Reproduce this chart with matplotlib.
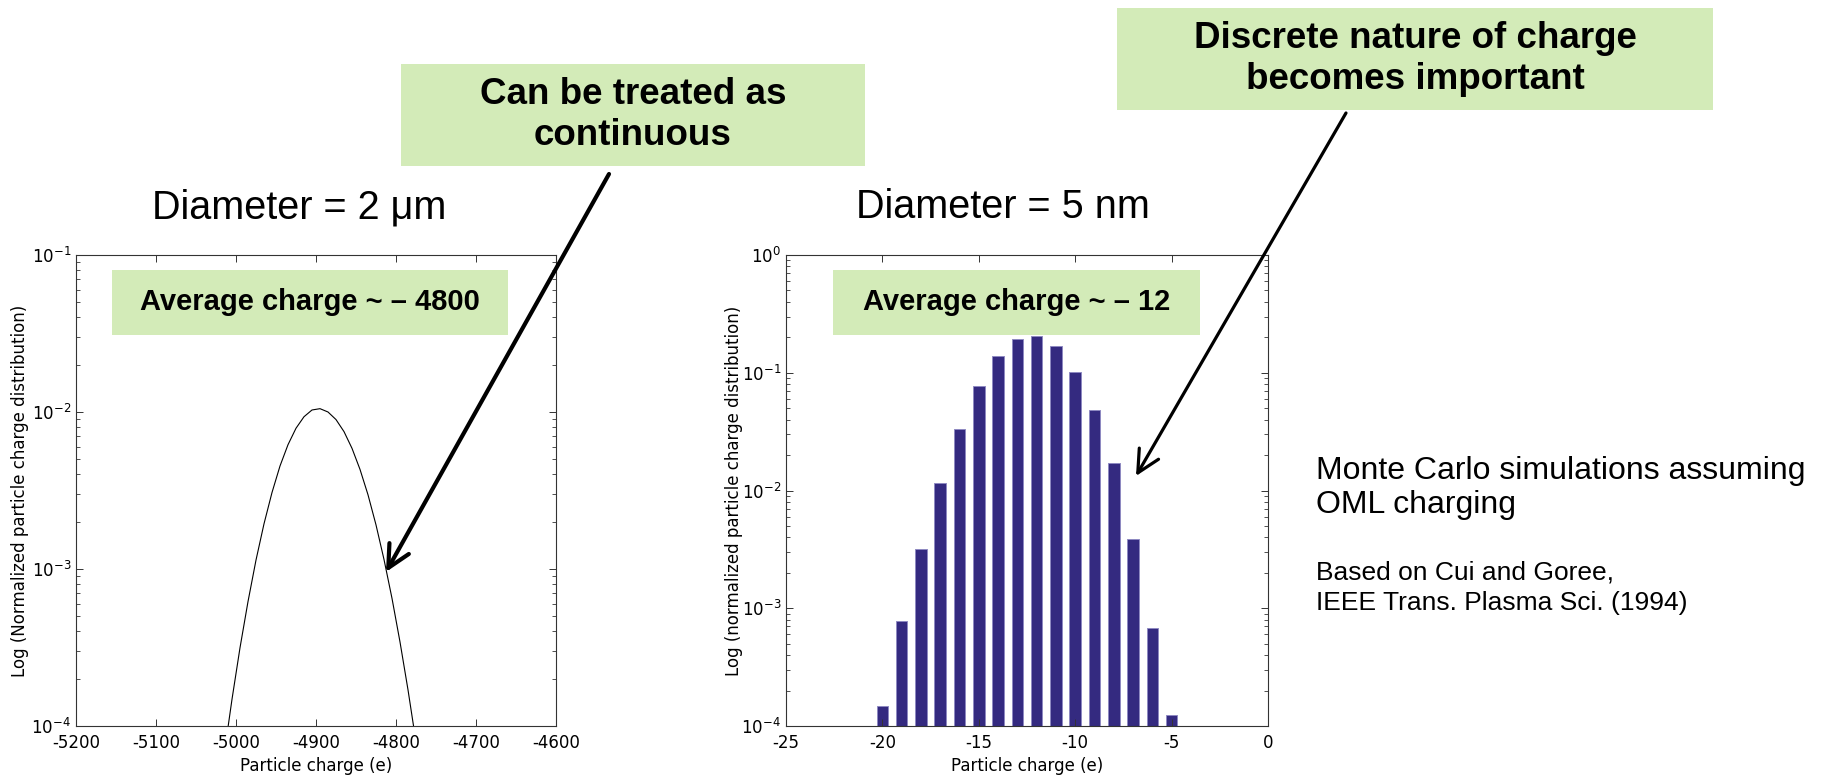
import matplotlib
matplotlib.use("Agg")
import matplotlib.pyplot as plt
from matplotlib.patches import Rectangle, FancyArrowPatch
from matplotlib.ticker import LogLocator, NullFormatter, MultipleLocator

# 2 um particle: charge distribution (line)
charge_2um = [-5015, -5005, -4995, -4985, -4975, -4965, -4955, -4945, -4935,
              -4925, -4915, -4905, -4895, -4885, -4875, -4865, -4855, -4845,
              -4835, -4825, -4815, -4805, -4795, -4785, -4775]
dist_2um = [6.5e-5, 1.48e-4, 3.15e-4, 6.2e-4, 1.14e-3, 1.94e-3, 3.07e-3,
            4.53e-3, 6.19e-3, 7.88e-3, 9.33e-3, 1.03e-2, 1.05e-2, 1.00e-2,
            8.95e-3, 7.50e-3, 5.87e-3, 4.31e-3, 2.97e-3, 1.91e-3, 1.15e-3,
            6.5e-4, 3.43e-4, 1.70e-4, 7.9e-5]

# 5 nm particle: discrete charge states (bars)
charge_5nm = [-20, -19, -18, -17, -16, -15, -14, -13, -12, -11, -10, -9, -8,
              -7, -6, -5]
dist_5nm = [1.37e-4, 7.7e-4, 3.2e-3, 1.15e-2, 3.35e-2, 7.7e-2, 0.139, 0.192,
            0.207, 0.170, 0.102, 0.0486, 0.0171, 3.87e-3, 6.7e-4, 1.15e-4]

W, H = 1821, 776
plt.rcParams['axes.unicode_minus'] = False
plt.rcParams['font.family'] = 'DejaVu Sans'

fig = plt.figure(figsize=(W / 100, H / 100), dpi=100)


def px(x, y):
    return (x / W, 1 - y / H)


def make_axes(x0, y0, x1, y1):
    ax = fig.add_axes([x0 / W, 1 - y1 / H, (x1 - x0) / W, (y1 - y0) / H])
    ax.set_yscale('log')
    ax.yaxis.set_minor_locator(LogLocator(base=10, subs=range(2, 10)))
    ax.yaxis.set_minor_formatter(NullFormatter())
    ax.tick_params(which='both', direction='in', top=True, right=True,
                   labelsize=12, color='#333333')
    ax.tick_params(which='major', length=5, width=0.7)
    ax.tick_params(which='minor', length=3, width=0.6)
    ax.tick_params(axis='x', pad=6)
    ax.tick_params(axis='y', pad=3.5)
    for s in ax.spines.values():
        s.set_linewidth(0.8)
        s.set_color('#333333')
    return ax


# left panel
ax1 = make_axes(76, 255, 556, 726)
ax1.plot(charge_2um, dist_2um, color='black', lw=0.8)
ax1.set_xlim(-5200, -4600)
ax1.set_ylim(1e-4, 1e-1)
ax1.xaxis.set_major_locator(MultipleLocator(100))
ax1.set_xlabel('Particle charge (e)', fontsize=12)
ax1.set_ylabel('Log (Normalized particle charge distribution)', fontsize=12)
ax1.xaxis.set_label_coords(0.5, -0.066)
ax1.yaxis.set_label_coords(-0.098, 0.5)

# right panel
ax2 = make_axes(786, 255, 1268, 726)
ax2.bar(charge_5nm, dist_5nm, width=0.6, bottom=1e-5, color='#342a80',
        edgecolor='#8e89c2', linewidth=0.7)
ax2.set_xlim(-25, 0)
ax2.set_ylim(1e-4, 1)
ax2.xaxis.set_major_locator(MultipleLocator(5))
ax2.set_xlabel('Particle charge (e)', fontsize=12)
ax2.set_ylabel('Log (normalized particle charge distribution)', fontsize=12)
ax2.xaxis.set_label_coords(0.5, -0.066)
ax2.yaxis.set_label_coords(-0.089, 0.5)

green = '#d3ebb8'
sans = 'Liberation Sans'


def callout(x0, y0, x1, y1, text, size):
    fig.add_artist(Rectangle(px(x0, y1), (x1 - x0) / W, (y1 - y0) / H,
                             transform=fig.transFigure, facecolor=green,
                             edgecolor='none', zorder=5))
    cx, cy = px((x0 + x1) / 2, (y0 + y1) / 2)
    fig.text(cx, cy, text, ha='center', va='center', fontsize=size,
             fontweight='bold', family=sans, linespacing=1.2, zorder=6)


callout(401, 64, 865, 166, 'Can be treated as\ncontinuous', 26.5)
callout(1117, 8, 1713, 110, 'Discrete nature of charge\nbecomes important', 26.5)
callout(112, 270, 508, 335, 'Average charge ~ \u2013 4800', 21)
callout(833, 270, 1200, 335, 'Average charge ~ \u2013 12', 21)

fig.text(*px(299, 207), 'Diameter = 2 \u03bcm', ha='center', va='center',
         fontsize=28.5, family=sans)
fig.text(*px(1003, 207), 'Diameter = 5 nm', ha='center', va='center',
         fontsize=28.5, family=sans)

fig.text(*px(1316, 488), 'Monte Carlo simulations assuming\nOML charging',
         ha='left', va='center', fontsize=23, family=sans, linespacing=1.2)
fig.text(*px(1316, 588), 'Based on Cui and Goree,\nIEEE Trans. Plasma Sci. (1994)',
         ha='left', va='center', fontsize=19, family=sans, linespacing=1.35)

# arrows from the call-outs to the distributions
for start, end, lw in [((609, 174), (386, 572), 3.0),
                       ((1346, 113), (1136, 476), 2.3)]:
    fig.add_artist(FancyArrowPatch(px(*start), px(*end),
                                   transform=fig.transFigure,
                                   arrowstyle='->,head_length=0.8,head_width=0.4',
                                   mutation_scale=20, lw=lw, color='black',
                                   shrinkA=0, shrinkB=0, zorder=7))

fig.savefig('out.png', dpi=100)
